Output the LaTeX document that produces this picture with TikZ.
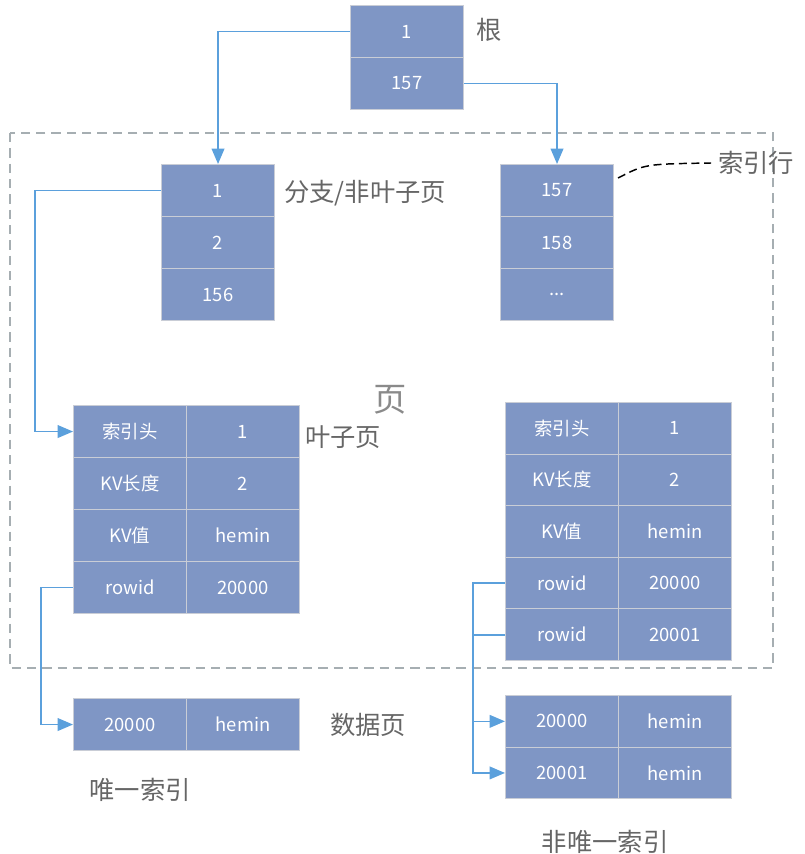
\documentclass[tikz,border=0pt]{standalone}
\usepackage{fontspec}
\setmainfont{Noto Sans CJK SC}
\usetikzlibrary{arrows.meta}
\definecolor{cellfill}{HTML}{7F96C5}
\definecolor{cellborder}{HTML}{C9CDD6}
\definecolor{connblue}{HTML}{5BA0DC}
\definecolor{labelgray}{HTML}{666666}
\definecolor{pagegray}{HTML}{8A8A8A}
\definecolor{framegray}{HTML}{A6AEB2}
\tikzset{
  cell/.style={draw=cellborder, fill=cellfill, text=white, line width=0.8pt,
    font=\fontsize{13.8}{16}\selectfont, inner sep=0pt, anchor=north west,
    minimum width=84.75pt, minimum height=39pt},
  shortrow/.style={minimum height=38.7pt},
  conn/.style={draw=connblue, line width=1.2pt},
  connarrow/.style={conn, -{Triangle[length=11.5pt,width=9.5pt]}},
  lbl/.style={text=labelgray, font=\fontsize{19}{22}\selectfont, inner sep=0pt},
}
\begin{document}
\begin{tikzpicture}[x=0.75pt,y=-0.75pt]
\useasboundingbox (0,0) rectangle (804,854);
% page frame
\draw[framegray, line width=1.1pt, dash pattern=on 7pt off 4.5pt] (10,133) rectangle (773,668);
% root
\node[cell] (r1) at (350,5) {1};
\node[cell] (r2) at (350,57) {157};
\node[lbl] (lroot) at (489,30) {根};
% branch left
\node[cell] (b1) at (161,164) {1};
\node[cell] (b2) at (161,216) {2};
\node[cell] (b3) at (161,268) {156};
\node[lbl, anchor=west] (lbranch) at (284,193) {分支/非叶子页};
% branch right
\node[cell] (c1) at (500,164) {157};
\node[cell] (c2) at (500,216) {158};
\node[cell] (c3) at (500,268) {...};
\node[lbl] (lrow) at (756,163) {索引行};
% page label
\node[text=pagegray, font=\fontsize{25}{28}\selectfont, inner sep=0pt] (lpage) at (390,400) {页};
% leaf left
\node[cell] (l1a) at (73,405) {索引头};
\node[cell] (l1b) at (186,405) {1};
\node[cell] (l2a) at (73,457) {KV长度};
\node[cell] (l2b) at (186,457) {2};
\node[cell] (l3a) at (73,509) {KV值};
\node[cell] (l3b) at (186,509) {hemin};
\node[cell] (l4a) at (73,561) {rowid};
\node[cell] (l4b) at (186,561) {20000};
\node[lbl] (lleaf) at (343,437) {叶子页};
% leaf right
\node[cell, shortrow] (m1a) at (505,402) {索引头};
\node[cell, shortrow] (m1b) at (618,402) {1};
\node[cell, shortrow] (m2a) at (505,453.6) {KV长度};
\node[cell, shortrow] (m2b) at (618,453.6) {2};
\node[cell, shortrow] (m3a) at (505,505.2) {KV值};
\node[cell, shortrow] (m3b) at (618,505.2) {hemin};
\node[cell, shortrow] (m4a) at (505,556.8) {rowid};
\node[cell, shortrow] (m4b) at (618,556.8) {20000};
\node[cell, shortrow] (m5a) at (505,608.4) {rowid};
\node[cell, shortrow] (m5b) at (618,608.4) {20001};
% data left
\node[cell] (d1) at (73,698) {20000};
\node[cell] (d2) at (186,698) {hemin};
\node[lbl] (ldata) at (368,725) {数据页};
\node[lbl] (luniq) at (140,790) {唯一索引};
% data right
\node[cell, shortrow] (e1) at (505,695) {20000};
\node[cell, shortrow] (e1b) at (618,695) {hemin};
\node[cell, shortrow] (e2) at (505,746.6) {20001};
\node[cell, shortrow] (e2b) at (618,746.6) {hemin};
\node[lbl] (lnonuniq) at (605,842) {非唯一索引};
% connectors
\draw[connarrow] (r1.west) -| (b1.north);
\draw[connarrow] (r2.east) -| (c1.north);
\draw[connarrow] (b1.west) -- ++(-126,0) |- (l1a.west);
\draw[connarrow] (l4a.west) -- ++(-32,0) |- (d1.west);
\draw[connarrow] (m4a.west) -- ++(-32,0) coordinate (j) |- (e2.west);
\draw[conn] (m5a.west) -- (m5a.west -| j);
\draw[connarrow] (j |- e1.west) -- (e1.west);
% index row pointer
\draw[black, line width=1.1pt, dash pattern=on 6pt off 3.5pt]
  ([xshift=3pt,yshift=-10.5pt]c1.north east) .. controls (645,164) .. ([xshift=-5pt]lrow.west);
\end{tikzpicture}
\end{document}
